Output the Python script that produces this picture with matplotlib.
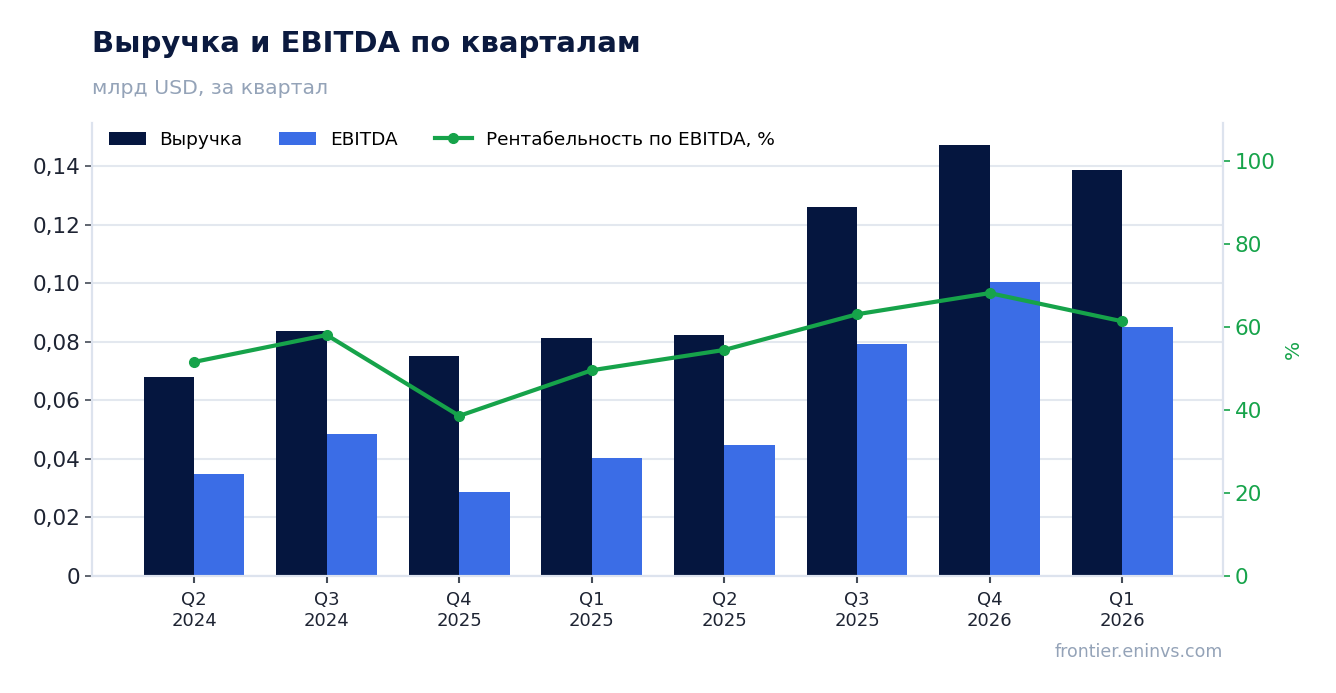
import numpy as np
import matplotlib
matplotlib.use("Agg")
import matplotlib.pyplot as plt
from matplotlib.ticker import FuncFormatter

plt.rcParams['font.family'] = ['DejaVu Sans']

quarters = ["Q2\n2024", "Q3\n2024", "Q4\n2025", "Q1\n2025", "Q2\n2025", "Q3\n2025", "Q4\n2026", "Q1\n2026"]
revenue = [0.0680, 0.0837, 0.0751, 0.0813, 0.0823, 0.1260, 0.1472, 0.1386]
ebitda = [0.0348, 0.0485, 0.0287, 0.0403, 0.0447, 0.0792, 0.1004, 0.0850]
margin = [51.6, 58.1, 38.6, 49.6, 54.5, 63.1, 68.2, 61.4]

navy = "#05163f"
blue = "#3b6de6"
green = "#16a34a"
grid_c = "#e3e8ef"
spine_c = "#dde3ee"

fig = plt.figure(figsize=(13.36, 6.93), dpi=100)
ax = fig.add_axes([92/1336, 1-576/693, (1223-92)/1336, (576-123)/693])
ax2 = ax.twinx()

x = np.arange(len(quarters))
w = 0.38
ax.bar(x - w/2, revenue, w, color=navy, label="Выручка", zorder=2)
ax.bar(x + w/2, ebitda, w, color=blue, label="EBITDA", zorder=2)
ax2.plot(x, margin, color=green, lw=3, marker="o", ms=7,
         label="Рентабельность по EBITDA, %", zorder=3)

ax.set_xlim(-0.77, 7.76)
ax.set_ylim(0, 0.1547)
ax2.set_ylim(0, 109.2)
ax.set_yticks(np.arange(0, 0.141, 0.02))
ax2.set_yticks(np.arange(0, 101, 20))
ax.yaxis.set_major_formatter(FuncFormatter(lambda v, p: "0" if v == 0 else f"{v:.2f}".replace(".", ",")))

ax.set_xticks(x)
ax.set_xticklabels(quarters, fontsize=13, color="#1e2433")
ax.tick_params(axis="y", labelsize=15.5, colors="#1e2433", length=5, width=1.2)
ax.tick_params(axis="x", length=5, width=1.5, color="#444b57", pad=6)
ax.tick_params(axis="y", color="#444b57")
ax2.tick_params(axis="y", labelsize=15.5, colors=green, length=5, width=1.2)
ax2.set_ylabel("%", color=green, fontsize=14.5, labelpad=6)

ax.grid(axis="y", color=grid_c, lw=1.5, zorder=0)
ax.set_axisbelow(True)
for a in (ax, ax2):
    a.spines["top"].set_visible(False)
    for s in ("left", "right", "bottom"):
        a.spines[s].set_color(spine_c)
        a.spines[s].set_linewidth(1.5)

h1, l1 = ax.get_legend_handles_labels()
h2, l2 = ax2.get_legend_handles_labels()
ax.legend(h1 + h2, l1 + l2, loc="upper left", ncol=3, frameon=False, fontsize=13.3,
          bbox_to_anchor=(0.0, 1.02), handlelength=2.0, handletextpad=0.75,
          columnspacing=2.0)

fig.text(92/1336, 1-44/693, "Выручка и EBITDA по кварталам", fontsize=21, fontweight="bold",
         color="#0b1a3f", va="center")
fig.text(92/1336, 1-88/693, "млрд USD, за квартал", fontsize=14.7, color="#94a3b8", va="center")
fig.text(1223/1336, 1-652/693, "frontier.eninvs.com", fontsize=12.5, color="#94a3b8",
         ha="right", va="center")

fig.savefig("out.png", dpi=100)
